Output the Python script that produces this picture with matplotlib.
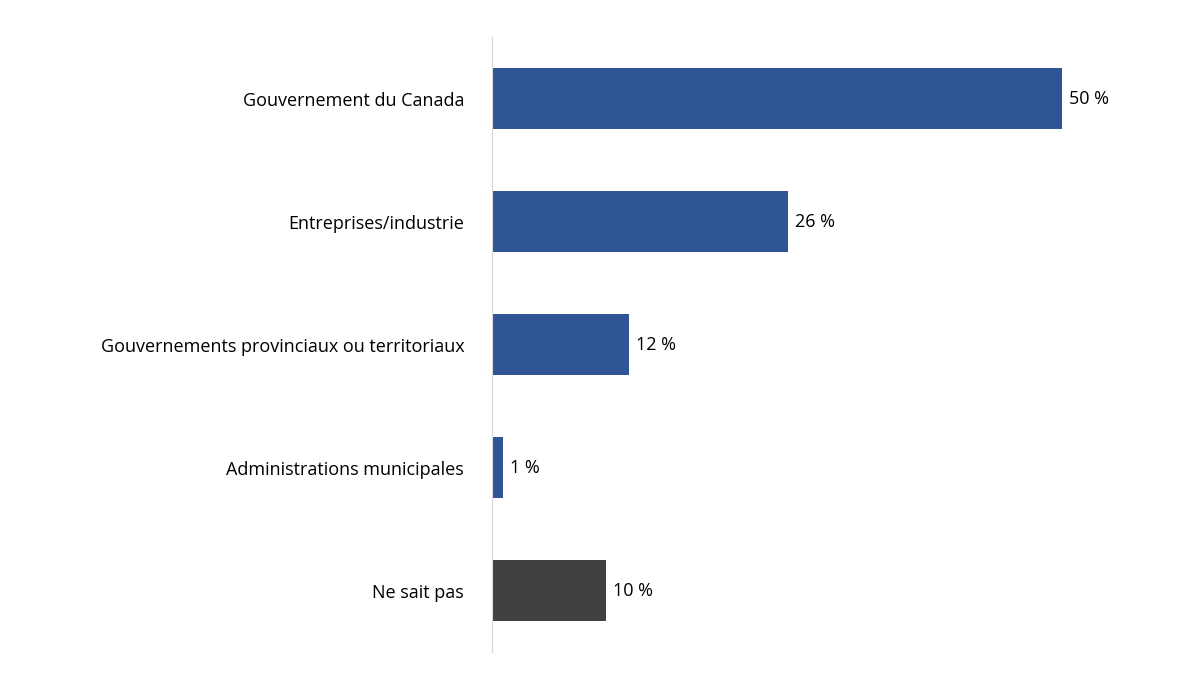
import matplotlib
matplotlib.use("Agg")
import matplotlib.pyplot as plt

categories = ["Gouvernement du Canada", "Entreprises/industrie",
              "Gouvernements provinciaux ou territoriaux",
              "Administrations municipales", "Ne sait pas"]
values = [50, 26, 12, 1, 10]
colors = ["#2F5597", "#2F5597", "#2F5597", "#2F5597", "#404040"]

plt.rcParams['font.family'] = ['Open Sans', 'DejaVu Sans']
fig = plt.figure(figsize=(12, 6.75), dpi=100)
ax = fig.add_axes([0.41, 0.034, 0.59, 0.911])
y = list(range(len(categories)))
ax.barh(y, values, height=0.5, color=colors)
ax.set_ylim(4.5, -0.5)
ax.set_xlim(0, 62.1)
ax.set_yticks(y)
ax.set_yticklabels(categories, fontsize=13)
ax.tick_params(axis='y', length=0, pad=20)
ax.set_xticks([])
for s in ['top', 'right', 'bottom']:
    ax.spines[s].set_visible(False)
ax.spines['left'].set_color('#D9D9D9')
for yi, v in zip(y, values):
    ax.text(v + 0.6, yi, f"{v} %", va='center', ha='left', fontsize=13)
fig.savefig("out.png", dpi=100)
